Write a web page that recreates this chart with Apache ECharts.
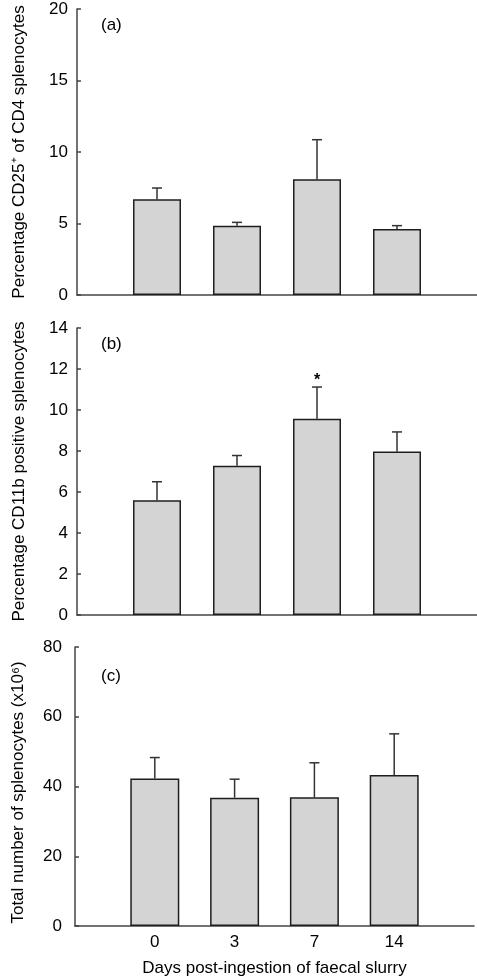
<!DOCTYPE html>
<html><head><meta charset="utf-8">
<script src="https://cdn.jsdelivr.net/npm/echarts@6/dist/echarts.min.js"></script>
<style>html,body{margin:0;padding:0;background:#fff}#c{width:477px;height:978px}</style>
</head><body><div id="c"></div>
<script>
const days = ['0', '3', '7', '14'];
// Panel (a): % CD25+ of CD4 splenocytes
const meanA = [6.7, 4.85, 8.1, 4.62];
const upperA = [7.48, 5.08, 10.86, 4.85];
// Panel (b): % CD11b positive splenocytes
const meanB = [5.6, 7.28, 9.57, 7.98];
const upperB = [6.5, 7.78, 11.12, 8.93];
const markB = ['', '', '*', ''];
// Panel (c): total splenocytes (x10^6)
const meanC = [42.3, 36.8, 36.9, 43.3];
const upperC = [48.3, 42.1, 46.8, 55.1];
const ticksA = { min: 0, max: 20, interval: 5 };
const ticksB = { min: 0, max: 14, interval: 2 };
const ticksC = { min: 0, max: 80, interval: 20 };
const panelLabels = ['(a)', '(b)', '(c)'];
const yNames = ['Percentage CD25\u207A of CD4 splenocytes', 'Percentage CD11b positive splenocytes', 'Total number of splenocytes (x10\u2076)'];
const xName = 'Days post-ingestion of faecal slurry';

const FONT = '"Liberation Sans", Arial, Helvetica, sans-serif';
const FS = 17;
const cats = [''].concat(days, ['']);
const pad = a => [null].concat(a, [null]);

const grids = [
  { left: 77, top: 9, height: 286, right: 0 },
  { left: 77, top: 328, height: 287, right: 0 },
  { left: 75, top: 647, height: 287, right: -13 }
];
const ticks = [ticksA, ticksB, ticksC];
const means = [meanA, meanB, meanC];
const uppers = [upperA, upperB, upperC];
const marks = [['', '', '', ''], markB, ['', '', '', '']];

const xAxis = grids.map((g, i) => ({
  type: 'category', gridIndex: i, data: cats, boundaryGap: false,
  axisLine: { lineStyle: { color: '#444', width: 1.5 } },
  axisTick: { show: false },
  axisLabel: { show: i === 2, color: '#000', fontSize: FS, fontFamily: FONT, margin: 8 },
  name: i === 2 ? xName : '', nameLocation: 'middle', nameGap: 34,
  nameTextStyle: { color: '#000', fontSize: FS, fontFamily: FONT }
}));
const yAxis = grids.map((g, i) => ({
  type: 'value', gridIndex: i, min: ticks[i].min, max: ticks[i].max, interval: ticks[i].interval,
  splitLine: { show: false },
  axisLine: { show: true, lineStyle: { color: '#444', width: 1.5 } },
  axisTick: { show: true, inside: true, length: 4, lineStyle: { color: '#444', width: 1.5 } },
  axisLabel: { color: '#000', fontSize: FS, fontFamily: FONT, margin: i === 2 ? 13 : 9 },
  name: yNames[i], nameLocation: 'middle', nameGap: i === 2 ? 48 : 49,
  nameTextStyle: { color: '#000', fontSize: FS, fontFamily: FONT, padding: i === 2 ? [0, 12, 0, 0] : 0 }
}));

const series = [];
grids.forEach((g, i) => {
  series.push({
    type: 'bar', xAxisIndex: i, yAxisIndex: i, data: pad(means[i]), barWidth: i === 2 ? 49 : 48,
    itemStyle: { color: '#d4d4d4', borderColor: '#1e1e1e', borderWidth: 1.5 },
    silent: true, animation: false
  });
  series.push({
    type: 'custom', xAxisIndex: i, yAxisIndex: i, animation: false, silent: true,
    data: means[i].map((m, k) => [k + 1, m, uppers[i][k], k]),
    renderItem: (params, api) => {
      const x = api.value(0), m = api.value(1), u = api.value(2), k = api.value(3);
      const p0 = api.coord([x, m]), p1 = api.coord([x, u]);
      const st = { stroke: '#333', lineWidth: 1.5 };
      const ch = [
        { type: 'line', shape: { x1: p0[0], y1: p0[1], x2: p1[0], y2: p1[1] }, style: st },
        { type: 'line', shape: { x1: p1[0] - 5, y1: p1[1], x2: p1[0] + 5, y2: p1[1] }, style: st }
      ];
      const mk = marks[i][k];
      if (mk) ch.push({ type: 'text', style: { text: mk, x: p1[0], y: p1[1] + 2, align: 'center', verticalAlign: 'bottom', fontSize: 16, fontWeight: 'bold', fontFamily: FONT, fill: '#000' } });
      return { type: 'group', children: ch };
    }
  });
});

const graphic = [
  { type: 'text', left: 101, top: 17, style: { text: panelLabels[0], fontSize: FS, fontFamily: FONT, fill: '#000' } },
  { type: 'text', left: 101, top: 336, style: { text: panelLabels[1], fontSize: FS, fontFamily: FONT, fill: '#000' } },
  { type: 'text', left: 101, top: 668, style: { text: panelLabels[2], fontSize: FS, fontFamily: FONT, fill: '#000' } }
];

const chart = echarts.init(document.getElementById('c'), null, { renderer: 'canvas' });
chart.setOption({ animation: false, grid: grids, xAxis, yAxis, series, graphic });
</script></body></html>
